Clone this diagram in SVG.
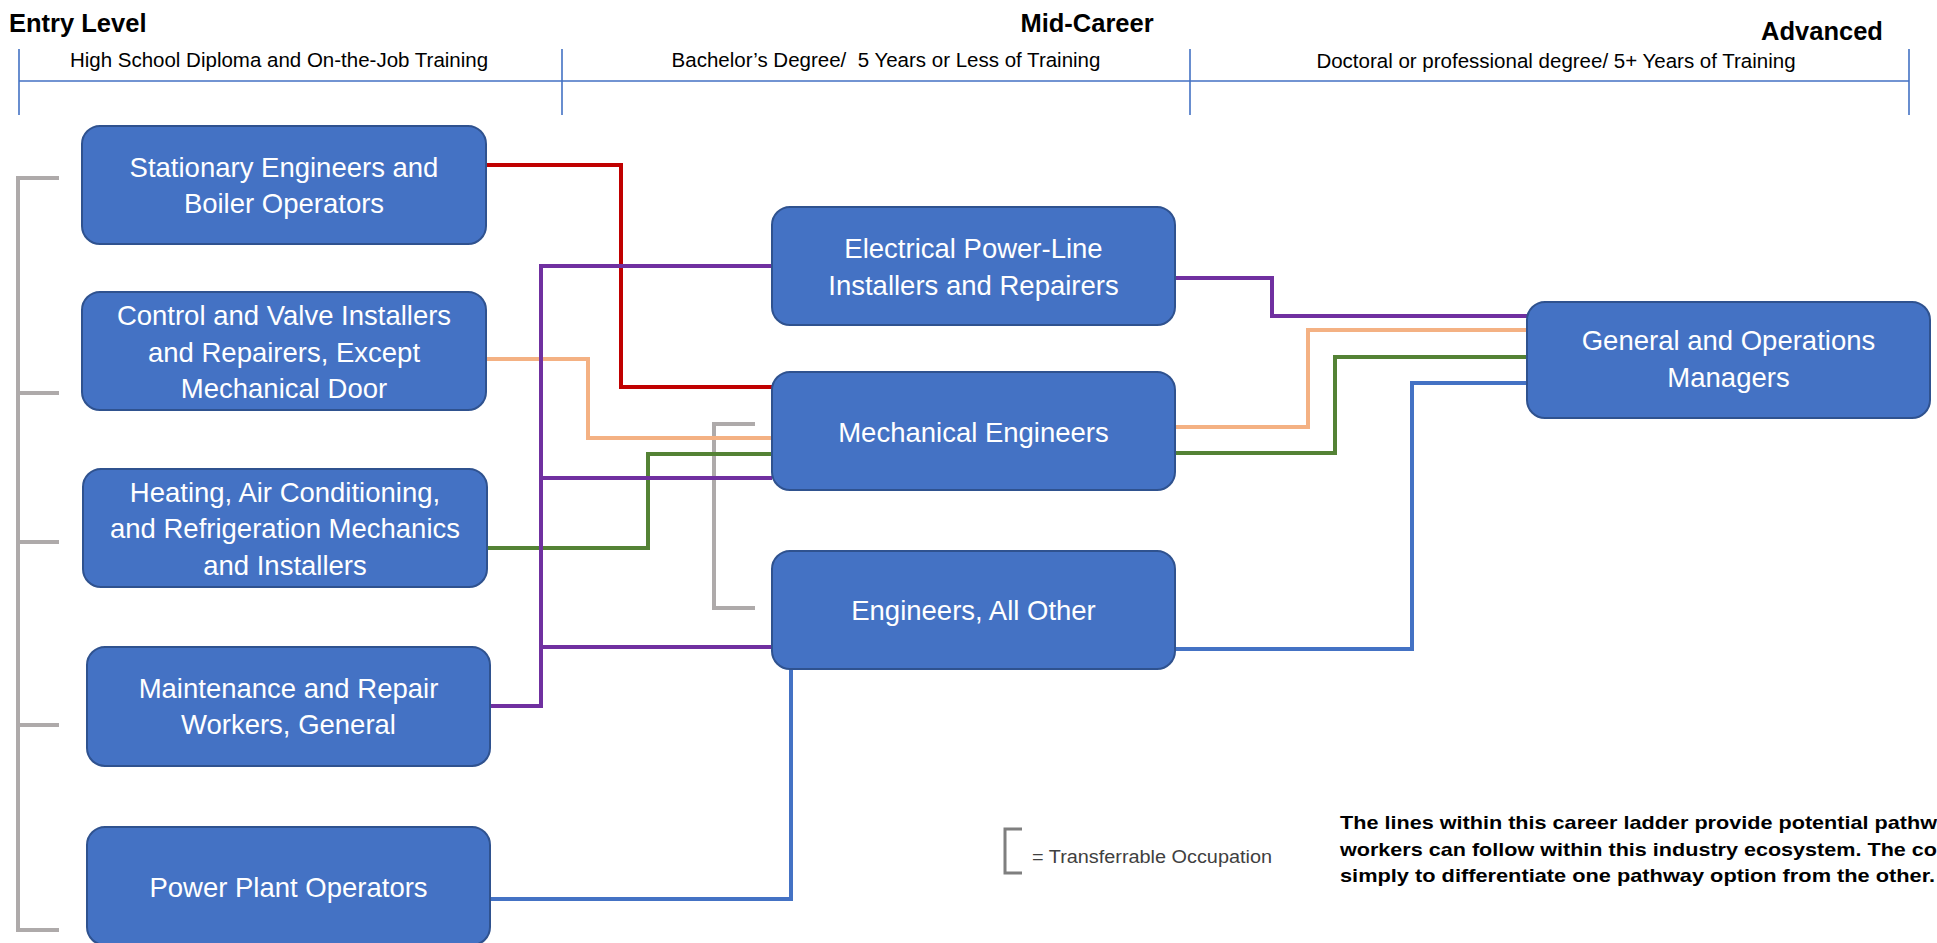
<svg xmlns="http://www.w3.org/2000/svg" width="1937" height="943" viewBox="0 0 1937 943">
<style>
.hdr{font-family:"Liberation Sans",Arial,sans-serif;font-weight:bold;font-size:25.5px;fill:#000}
.sub{font-family:"Liberation Sans",Arial,sans-serif;font-size:20.5px;fill:#000;text-anchor:middle;white-space:pre}
.box{fill:#4472C4;stroke:#2F528F;stroke-width:2}
.lbl{font-family:"Liberation Sans",Arial,sans-serif;font-size:27.5px;fill:#fff;text-anchor:middle}
.c{fill:none;stroke-width:4;stroke-linejoin:miter;stroke-linecap:butt}
.note{font-family:"Liberation Sans",Arial,sans-serif;font-weight:bold;font-size:18.5px;fill:#000}
</style>
<rect width="1937" height="943" fill="#fff"/>
<g id="header">
<text class="hdr" x="9" y="32">Entry Level</text>
<text class="hdr" x="1087" y="32" text-anchor="middle">Mid-Career</text>
<text class="hdr" x="1822" y="40" text-anchor="middle">Advanced</text>
<path d="M19,81 H1909 M19,49 V115 M562,49 V115 M1190,49 V115 M1909,49 V115" stroke="#4472C4" stroke-width="1.6" fill="none"/>
<text class="sub" x="279" y="67">High School Diploma and On-the-Job Training</text>
<text class="sub" x="886" y="67">Bachelor’s Degree/  5 Years or Less of Training</text>
<text class="sub" x="1556" y="68">Doctoral or professional degree/ 5+ Years of Training</text>
</g>
<g id="connectors">
<path class="c" stroke="#AEAAAA" d="M59,178 H18 V930 H59 M18,393 H59 M18,542 H59 M18,725 H59"/>
<path class="c" stroke="#AEAAAA" d="M755,424 H714 V608 H755"/>
<path class="c" stroke="#F4B183" d="M486,359 H588 V438 H772"/>
<path class="c" stroke="#548235" d="M487,548 H648 V454 H772"/>
<path class="c" stroke="#C00000" d="M486,165 H621 V387 H772"/>
<path class="c" stroke="#7030A0" d="M490,706 H541 V266 H772 M541,478 H772 M541,647 H772"/>
<path class="c" stroke="#4472C4" d="M490,899 H791 V669"/>
<path class="c" stroke="#7030A0" d="M1175,278 H1272 V316 H1527"/>
<path class="c" stroke="#F4B183" d="M1175,427 H1308 V330 H1527"/>
<path class="c" stroke="#548235" d="M1175,453 H1335 V357 H1527"/>
<path class="c" stroke="#4472C4" d="M1175,649 H1412 V383 H1527"/>
</g>
<g id="n1"><rect class="box" x="82" y="126" width="404" height="118" rx="18"/><text class="lbl" x="284" y="177">Stationary Engineers and</text><text class="lbl" x="284" y="213">Boiler Operators</text></g>
<g id="n2"><rect class="box" x="82" y="292" width="404" height="118" rx="18"/><text class="lbl" x="284" y="325">Control and Valve Installers</text><text class="lbl" x="284" y="362">and Repairers, Except</text><text class="lbl" x="284" y="398">Mechanical Door</text></g>
<g id="n3"><rect class="box" x="83" y="469" width="404" height="118" rx="18"/><text class="lbl" x="285" y="502">Heating, Air Conditioning,</text><text class="lbl" x="285" y="538">and Refrigeration Mechanics</text><text class="lbl" x="285" y="575">and Installers</text></g>
<g id="n4"><rect class="box" x="87" y="647" width="403" height="119" rx="18"/><text class="lbl" x="288.5" y="698">Maintenance and Repair</text><text class="lbl" x="288.5" y="734">Workers, General</text></g>
<g id="n5"><rect class="box" x="87" y="827" width="403" height="118" rx="18"/><text class="lbl" x="288.5" y="897">Power Plant Operators</text></g>
<g id="n6"><rect class="box" x="772" y="207" width="403" height="118" rx="18"/><text class="lbl" x="973.5" y="258">Electrical Power-Line</text><text class="lbl" x="973.5" y="295">Installers and Repairers</text></g>
<g id="n7"><rect class="box" x="772" y="372" width="403" height="118" rx="18"/><text class="lbl" x="973.5" y="442">Mechanical Engineers</text></g>
<g id="n8"><rect class="box" x="772" y="551" width="403" height="118" rx="18"/><text class="lbl" x="973.5" y="620">Engineers, All Other</text></g>
<g id="n9"><rect class="box" x="1527" y="302" width="403" height="116" rx="18"/><text class="lbl" x="1728.5" y="350">General and Operations</text><text class="lbl" x="1728.5" y="387">Managers</text></g>
<g id="legend">
<path d="M1022,829 H1005 V873 H1022" fill="none" stroke="#7F7F7F" stroke-width="3"/>
<text x="1032" y="863" font-family="'Liberation Sans',Arial,sans-serif" font-size="17.5" fill="#404040" textLength="240" lengthAdjust="spacingAndGlyphs">= Transferrable Occupation</text>
</g>
<g id="note">
<text class="note" x="1340" y="829" textLength="597" lengthAdjust="spacingAndGlyphs">The lines within this career ladder provide potential pathw</text>
<text class="note" x="1340" y="856" textLength="597" lengthAdjust="spacingAndGlyphs">workers can follow within this industry ecosystem. The co</text>
<text class="note" x="1340" y="882" textLength="595" lengthAdjust="spacingAndGlyphs">simply to differentiate one pathway option from the other.</text>
</g>
</svg>
